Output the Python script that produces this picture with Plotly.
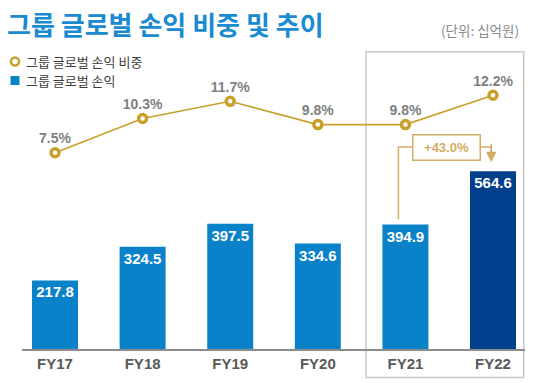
import plotly.graph_objects as go

# ---- data ----
years = ["FY17", "FY18", "FY19", "FY20", "FY21", "FY22"]
profit = [217.8, 324.5, 397.5, 334.6, 394.9, 564.6]          # 그룹 글로벌 손익 (십억원)
share = [7.5, 10.3, 11.7, 9.8, 9.8, 12.2]                     # 그룹 글로벌 손익 비중 (%)
growth_label = "+43.0%"
legend_names = ["그룹 글로벌 손익 비중", "그룹 글로벌 손익"]

BLUE = "#0a82c9"
NAVY = "#003f8c"
GOLD = "#c9a02c"
TAN = "#d4ad62"
GRAY_TXT = "#7f7f7f"
NUM_FONT = "Liberation Sans, Arial, sans-serif"
KR_FONT = "Noto Sans CJK KR, Noto Sans, sans-serif"

bar_colors = [BLUE] * (len(years) - 1) + [NAVY]

fig = go.Figure()

fig.add_trace(go.Bar(
    x=years, y=profit, width=0.525, name=legend_names[1],
    marker=dict(color=bar_colors, line=dict(width=0)),
    text=[f"{v:.1f}" for v in profit],
    textposition="inside", insidetextanchor="end",
    textfont=dict(family=NUM_FONT, size=15, color="white", weight="bold"),
    cliponaxis=False, showlegend=False, hoverinfo="skip",
))

fig.add_trace(go.Scatter(
    x=years, y=share, yaxis="y2", mode="lines+markers+text", name=legend_names[0],
    line=dict(color=GOLD, width=1.6),
    marker=dict(symbol="circle", size=8, color="white", line=dict(color=GOLD, width=3.5)),
    text=[f"{v:.1f}%" for v in share], textposition="top center",
    textfont=dict(family=NUM_FONT, size=14, color=GRAY_TXT, weight="bold"),
    cliponaxis=False, showlegend=False, hoverinfo="skip",
))

# highlight box around FY21-FY22
fig.add_shape(type="rect", xref="x", yref="paper", x0=3.55, x1=5.35, y0=-0.092, y1=0.962,
              line=dict(color="#c8c8c8", width=1.5), fillcolor="rgba(0,0,0,0)", layer="below")

# growth connector (FY21 -> FY22)
y_conn = 641
fig.add_shape(type="path", xref="x", yref="y",
              path=f"M 3.92,{profit[4] + 17} L 3.92,{y_conn} L 4.08,{y_conn}",
              line=dict(color=TAN, width=1.5))
fig.add_shape(type="path", xref="x", yref="y",
              path=f"M 4.85,{y_conn} L 4.98,{y_conn} L 4.98,{y_conn - 30}",
              line=dict(color=TAN, width=1.5))
fig.add_annotation(x=4.98, y=y_conn - 48, xref="x", yref="y", ax=0, ay=-20,
                   text="", showarrow=True, arrowhead=2, arrowsize=1.4, arrowwidth=1.5,
                   arrowcolor=TAN)
fig.add_annotation(x=4.465, y=y_conn, xref="x", yref="y", text=f"<b>{growth_label}</b>",
                   showarrow=False, font=dict(family=NUM_FONT, size=13, color=TAN),
                   bordercolor=TAN, borderwidth=1.5, borderpad=3, bgcolor="white",
                   width=60, height=18)

# legend (drawn manually)
leg_y = [61.5, 80.5]
fig.add_shape(type="circle", xref="paper", yref="paper",
              x0=(11 - 22) / 503, x1=(19 - 22) / 503,
              y0=(349 - leg_y[0] - 4) / 309, y1=(349 - leg_y[0] + 4) / 309,
              line=dict(color=GOLD, width=2.5), fillcolor="white")
fig.add_shape(type="rect", xref="paper", yref="paper",
              x0=(10.5 - 22) / 503, x1=(19.5 - 22) / 503,
              y0=(349 - leg_y[1] - 4.5) / 309, y1=(349 - leg_y[1] + 4.5) / 309,
              line=dict(width=0), fillcolor=BLUE)
for name, yy in zip(legend_names, leg_y):
    fig.add_annotation(xref="paper", yref="paper", x=(24 - 22) / 503, y=(349 - yy) / 309,
                       text=name, showarrow=False, xanchor="left", yanchor="middle",
                       font=dict(family=KR_FONT, size=13, color="#3c3c3c"))

# unit note
fig.add_annotation(xref="paper", yref="paper", x=(521 - 22) / 503, y=(349 - 30) / 309,
                   text="(단위: 십억원)", showarrow=False, xanchor="right", yanchor="middle",
                   font=dict(family=KR_FONT, size=13.5, color="#8a8a8a"))

fig.update_layout(
    width=535, height=383,
    margin=dict(l=22, r=10, t=40, b=34),
    paper_bgcolor="white", plot_bgcolor="white",
    title=dict(text="<b>그룹 글로벌 손익 비중 및 추이</b>", x=7 / 535, xanchor="left",
               y=1 - 26 / 383, yanchor="middle",
               font=dict(family=KR_FONT, size=26, color="#1a8bd0")),
    xaxis=dict(type="category", range=[-0.377, 5.365], showline=True, linecolor="#8c8c8c",
               linewidth=2, ticks="", showgrid=False, zeroline=False,
               tickfont=dict(family=NUM_FONT, size=15, color="#595959", weight="bold")),
    yaxis=dict(range=[0, 981], visible=False, showgrid=False, zeroline=False),
    yaxis2=dict(range=[-8.53, 16.71], overlaying="y", visible=False, showgrid=False, zeroline=False),
    bargap=0.4,
)

fig.write_html("out.html", config={"displayModeBar": False},
               post_script="document.body.style.margin='0';")
